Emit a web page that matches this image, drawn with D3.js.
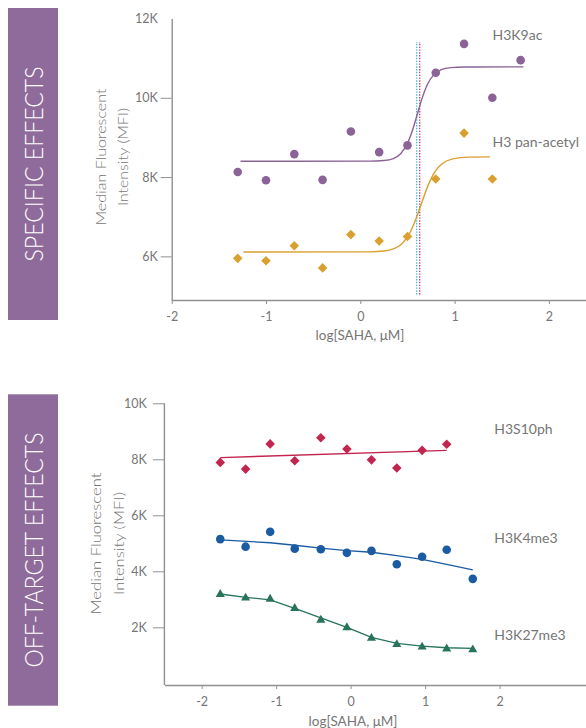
<!DOCTYPE html>
<html><head><meta charset="utf-8">
<script src="https://cdn.jsdelivr.net/npm/d3@7"></script>
<style>
html,body{margin:0;padding:0;background:#fff;}
svg{display:block;font-family:Lato,"Open Sans",sans-serif;}
</style></head>
<body>
<svg id="chart" width="586" height="728"></svg>
<script>
// ---------- DATA ----------
// Top panel: specific effects
const xTop = [-1.3,-1.0,-0.7,-0.4,-0.1,0.2,0.5,0.8,1.1,1.4,1.7];
const h3k9ac = [8.13,7.92,8.58,7.93,9.15,8.63,8.80,10.63,11.36,10.00,10.95];
const h3panAcetyl = [5.95,5.89,6.27,5.71,6.55,6.39,6.50,7.95,9.11,7.95];
const h3k9acFitX = [-1.27,0.1,0.25,0.35,0.43,0.5,0.555,0.605,0.655,0.71,0.78,0.86,0.96,1.1,1.73];
const h3k9acFitY = [8.40,8.402,8.418,8.468,8.595,8.852,9.194,9.59,9.985,10.328,10.585,10.712,10.762,10.777,10.78];
const panFitX = [-1.24,0.1,0.25,0.35,0.43,0.5,0.57,0.645,0.72,0.79,0.87,0.98,1.15,1.375];
const panFitY = [6.11,6.115,6.135,6.188,6.296,6.49,6.823,7.31,7.797,8.131,8.343,8.46,8.503,8.51];
const ec50Lines = [0.598, 0.63];          // dotted reference lines
const ec50Span = [5.04, 11.41];
const yTicksTop = [6,8,10,12];
// Bottom panel: off-target effects
const xBot = [-1.75,-1.41,-1.08,-0.75,-0.40,-0.05,0.28,0.62,0.96,1.29,1.64];
const h3s10ph = [7.89,7.65,8.55,7.95,8.77,8.37,7.98,7.69,8.32,8.54];
const h3k4me3 = [5.15,4.88,5.41,4.81,4.79,4.66,4.73,4.25,4.52,4.77,3.73];
const h3k27me3 = [3.18,3.05,3.01,2.68,2.26,1.99,1.61,1.39,1.30,1.23,1.20];
const h3s10phFitX = [-1.75,1.29];
const h3s10phFitY = [8.06,8.32];
const h3k4me3FitX = [-1.75,-1.08,-0.75,-0.40,-0.05,0.28,0.62,0.96,1.29,1.64];
const h3k4me3FitY = [5.12,5.02,4.93,4.83,4.74,4.68,4.56,4.43,4.25,4.05];
const h3k27me3Fit = [3.19,3.07,2.98,2.68,2.34,2.00,1.64,1.43,1.33,1.27,1.25];
const yTicksBot = [2,4,6,8,10];
const xTicks = [-2,-1,0,1,2];

// ---------- STYLE ----------
const C = {panel:"#8f6b9b", purple:"#8b6397", orange:"#d9a02f", red:"#c2264f",
  blue:"#1a5ba2", green:"#27745a", cyan:"#3cb9e6", dot2:"#c53a66", text:"#767676", axis:"#909090"};

const svg = d3.select("#chart");
svg.append("rect").attr("width",586).attr("height",728).attr("fill","#fff");

function sidePanel(y0, h, label, textLen){
  svg.append("rect").attr("x",8).attr("y",y0).attr("width",50).attr("height",h).attr("fill",C.panel);
  svg.append("text").attr("transform",`translate(33,${y0+h/2}) rotate(-90)`)
    .attr("text-anchor","middle").attr("dominant-baseline","central")
    .attr("fill","#fff").attr("font-size",25).attr("font-weight",300)
    .attr("textLength",textLen).attr("lengthAdjust","spacingAndGlyphs").text(label);
}
sidePanel(8, 312, "SPECIFIC EFFECTS", 195);
sidePanel(394.3, 311.4, "OFF-TARGET EFFECTS", 235);

function yTitle(x1,x2,cy,len1,len2){
  [["Median Fluorescent",x1,len1],["Intensity (MFI)",x2,len2]].forEach(([t,x,l])=>{
    svg.append("text").attr("transform",`translate(${x},${cy}) rotate(-90)`)
      .attr("text-anchor","middle").attr("dominant-baseline","central")
      .attr("fill",C.text).attr("font-size",14).attr("font-weight",300)
      .attr("textLength",l).attr("lengthAdjust","spacingAndGlyphs").text(t);
  });
}

function styleAxis(g){
  g.select(".domain").attr("stroke",C.axis).attr("stroke-width",1.4);
  g.selectAll(".tick line").attr("stroke",C.axis).attr("stroke-width",1);
  g.selectAll(".tick text").attr("fill",C.text).attr("font-size",12.5).attr("font-family","Lato,sans-serif");
}

const fmtK = d => d + "K";
const fmtX = d => String(d);

// ---------- TOP CHART ----------
const xT = d3.scaleLinear().domain([-2, 2.39]).range([171.7, 585.7]);
const yT = d3.scaleLinear().domain([4.9, 12]).range([300, 18.5]);

const gxT = svg.append("g").attr("transform",`translate(0,${yT(4.9)})`)
  .call(d3.axisBottom(xT).tickValues(xTicks).tickFormat(fmtX).tickSize(4).tickPadding(8).tickSizeOuter(0));
styleAxis(gxT);
const gyT = svg.append("g").attr("transform",`translate(${xT(-2)},0)`)
  .call(d3.axisLeft(yT).tickValues(yTicksTop).tickFormat(fmtK).tickSize(11).tickPadding(3).tickSizeOuter(0));
styleAxis(gyT);
gyT.selectAll(".tick").filter(d=>d===12).select("line").remove();

yTitle(100,122.5,157,137,98);
svg.append("text").attr("x",360).attr("y",340).attr("text-anchor","middle")
  .attr("fill",C.text).attr("font-size",13.5).text("log[SAHA, μM]");

// dotted lines
ec50Lines.forEach((v,i)=>{
  svg.append("line").attr("x1",xT(v)).attr("x2",xT(v)).attr("y1",yT(ec50Span[0])).attr("y2",yT(ec50Span[1]))
    .attr("stroke", i===0?C.cyan:C.dot2).attr("stroke-width",1.3).attr("stroke-dasharray","1.4,1.4");
});

const lineMono = (xs,ys,xs_,ys_) => d3.line().x((d,i)=>xs_(xs[i])).y(d=>ys_(d)).curve(d3.curveMonotoneX)(ys);
const lineLin = (xs,ys,xs_,ys_) => d3.line().x((d,i)=>xs_(xs[i])).y(d=>ys_(d))(ys);

svg.append("path").attr("d",lineMono(h3k9acFitX,h3k9acFitY,xT,yT)).attr("fill","none").attr("stroke",C.purple).attr("stroke-width",1.4);
svg.append("path").attr("d",lineMono(panFitX,panFitY,xT,yT)).attr("fill","none").attr("stroke",C.orange).attr("stroke-width",1.4);

svg.append("g").selectAll("circle").data(h3k9ac).join("circle")
  .attr("cx",(d,i)=>xT(xTop[i])).attr("cy",d=>yT(d)).attr("r",4.3).attr("fill",C.purple);
const diamond = d3.symbol().type(d3.symbolSquare).size(46);
svg.append("g").selectAll("path").data(h3panAcetyl).join("path")
  .attr("d",diamond).attr("transform",(d,i)=>`translate(${xT(xTop[i])},${yT(d)}) rotate(45)`).attr("fill",C.orange);

const seriesLabel = (x,y,t) => svg.append("text").attr("x",x).attr("y",y).attr("dominant-baseline","central")
  .attr("fill",C.text).attr("font-size",14).text(t);
seriesLabel(492.5,34,"H3K9ac");
seriesLabel(492.5,141,"H3 pan-acetyl");

// ---------- BOTTOM CHART ----------
const xB = d3.scaleLinear().domain([-2.5, 3.16]).range([164.4, 586]);
const yB = d3.scaleLinear().domain([-0.06, 10]).range([685, 403.3]);

const gxB = svg.append("g").attr("transform",`translate(0,${yB(-0.06)})`)
  .call(d3.axisBottom(xB).tickValues(xTicks).tickFormat(fmtX).tickSize(4).tickPadding(8).tickSizeOuter(0));
styleAxis(gxB);
const gyB = svg.append("g").attr("transform",`translate(${xB(-2.5)},0)`)
  .call(d3.axisLeft(yB).tickValues(yTicksBot).tickFormat(fmtK).tickSize(11.5).tickPadding(6).tickSizeOuter(0));
styleAxis(gyB);
// y domain path should start at 10K
gyB.select(".domain").attr("d",`M0,${yB(10)}V${yB(-0.06)}`);

yTitle(95.7,118.3,543.5,142,103);
svg.append("text").attr("x",353).attr("y",726).attr("text-anchor","middle")
  .attr("fill",C.text).attr("font-size",13.5).text("log[SAHA, μM]");

svg.append("path").attr("d",lineLin(h3s10phFitX,h3s10phFitY,xB,yB)).attr("fill","none").attr("stroke",C.red).attr("stroke-width",1.4);
svg.append("path").attr("d",lineLin(h3k4me3FitX,h3k4me3FitY,xB,yB)).attr("fill","none").attr("stroke",C.blue).attr("stroke-width",1.3);
svg.append("path").attr("d",lineLin(xBot,h3k27me3Fit,xB,yB)).attr("fill","none").attr("stroke",C.green).attr("stroke-width",1.3);

svg.append("g").selectAll("path").data(h3s10ph).join("path")
  .attr("d",diamond).attr("transform",(d,i)=>`translate(${xB(xBot[i])},${yB(d)}) rotate(45)`).attr("fill",C.red);
svg.append("g").selectAll("circle").data(h3k4me3).join("circle")
  .attr("cx",(d,i)=>xB(xBot[i])).attr("cy",d=>yB(d)).attr("r",4.3).attr("fill",C.blue);
const tri = d3.symbol().type(d3.symbolTriangle).size(36);
svg.append("g").selectAll("path").data(h3k27me3).join("path")
  .attr("d",tri).attr("transform",(d,i)=>`translate(${xB(xBot[i])},${yB(d)})`).attr("fill",C.green);

seriesLabel(494.3,428.3,"H3S10ph");
seriesLabel(494.3,537.7,"H3K4me3");
seriesLabel(494.3,634.3,"H3K27me3");
</script>
</body></html>
